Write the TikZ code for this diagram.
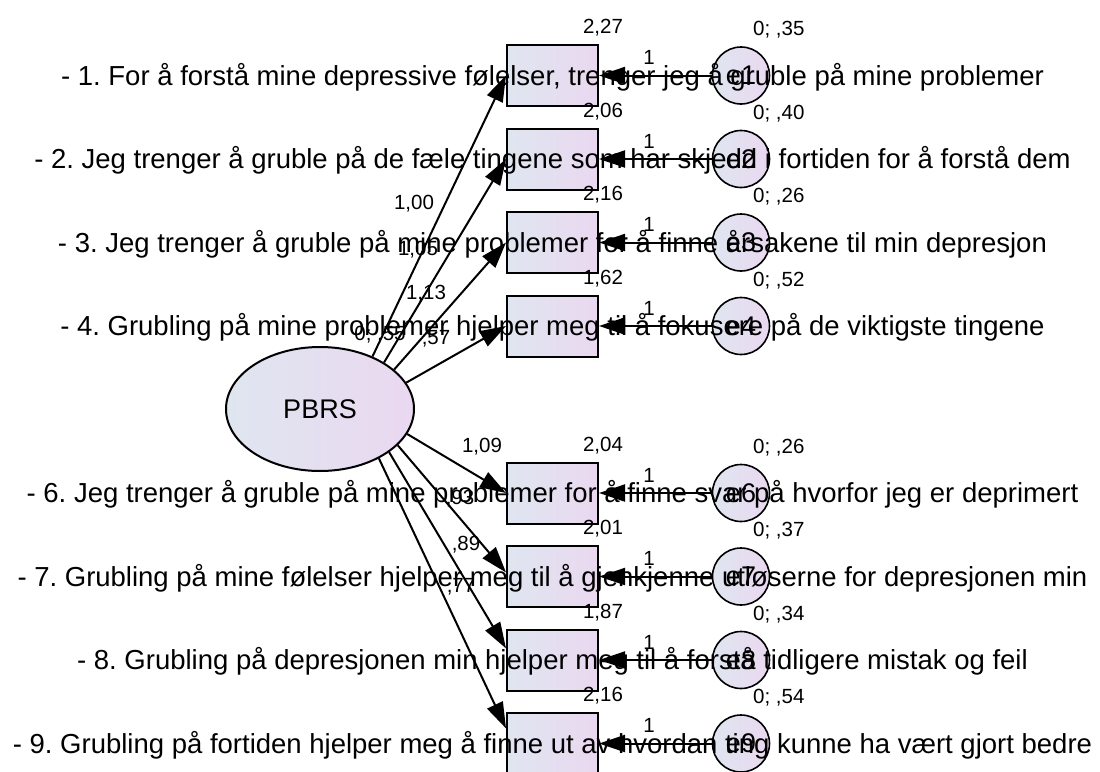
\documentclass[tikz,border=0pt]{standalone}
\usepackage{fontspec}
\setmainfont{Liberation Sans}
\usetikzlibrary{arrows.meta,shapes.geometric,calc}
\definecolor{fillA}{RGB}{223,230,240}
\definecolor{fillB}{RGB}{234,216,240}
\frenchspacing
\begin{document}
\frenchspacing
\begin{tikzpicture}[x=1pt,y=-1pt,
  obs/.style={draw,line width=2pt,rectangle,minimum width=91pt,minimum height=61pt,inner sep=0pt,left color=fillA,right color=fillB},
  err/.style={draw,line width=1.6pt,circle,minimum size=57pt,inner sep=0pt,left color=fillA,right color=fillB,font=\fontsize{27}{30}\selectfont},
  lat/.style={draw,line width=2pt,ellipse,minimum width=188pt,minimum height=124pt,inner sep=0pt,left color=fillA,right color=fillB,font=\fontsize{27}{30}\selectfont},
  reg/.style={line width=2pt,-{Triangle[length=26pt,width=17pt]}},
  item/.style={anchor=base,inner sep=0pt,font=\fontsize{27.5}{30}\selectfont},
  num/.style={anchor=base,inner sep=0pt,font=\fontsize{20.5}{24}\selectfont},
  numw/.style={anchor=base west,inner sep=0pt,font=\fontsize{20.5}{24}\selectfont}
]
\useasboundingbox (0,0) rectangle (1100,771);
\clip (0,0) rectangle (1100,771);

% latent
\node[lat] (pbrs) at (320,409) {PBRS};

% observed
\node[obs] (r1) at (552.5,75.5) {};
\node[obs] (r2) at (552.5,159) {};
\node[obs] (r3) at (552.5,242.5) {};
\node[obs] (r4) at (552.5,326) {};
\node[obs] (r6) at (552.5,493) {};
\node[obs] (r7) at (552.5,576.5) {};
\node[obs] (r8) at (552.5,660) {};
\node[obs] (r9) at (552.5,743.5) {};

% errors
\node[err] (e1) at (741,75.5) {e1};
\node[err] (e2) at (741,159) {e2};
\node[err] (e3) at (741,242.5) {e3};
\node[err] (e4) at (741,326) {e4};
\node[err] (e6) at (741,493) {e6};
\node[err] (e7) at (741,576.5) {e7};
\node[err] (e8) at (741,660) {e8};
\node[err] (e9) at (741,743.5) {e9};

% regression paths
\draw[reg] (pbrs.45) -- (r1.west);
\draw[reg] (pbrs.36) -- (r2.west);
\draw[reg] (pbrs.28) -- (r3.west);
\draw[reg] (pbrs.17) -- (r4.west);
\draw[reg] (pbrs.-16) -- (r6.west);
\draw[reg] (pbrs.-25) -- (r7.175);
\draw[reg] (pbrs.-32) -- (r8.166);
\draw[reg] (pbrs.-40) -- (r9.162);

\draw[reg] (e1.west) -- (r1.east);
\draw[reg] (e2.west) -- (r2.east);
\draw[reg] (e3.west) -- (r3.east);
\draw[reg] (e4.west) -- (r4.east);
\draw[reg] (e6.west) -- (r6.east);
\draw[reg] (e7.west) -- (r7.east);
\draw[reg] (e8.west) -- (r8.east);
\draw[reg] (e9.west) -- (r9.east);

% intercepts
\node[num] (i1) at (603,33.5) {2,27};
\node[num] (i2) at (603,117) {2,06};
\node[num] (i3) at (603,200.5) {2,16};
\node[num] (i4) at (603,284) {1,62};
\node[num] (i6) at (603,451) {2,04};
\node[num] (i7) at (603,534.5) {2,01};
\node[num] (i8) at (603,618) {1,87};
\node[num] (i9) at (603,701.5) {2,16};

% error variances
\node[numw] (v1) at (753,35.5) {0; ,35};
\node[numw] (v2) at (753,119) {0; ,40};
\node[numw] (v3) at (753,202.5) {0; ,26};
\node[numw] (v4) at (753,286) {0; ,52};
\node[numw] (v6) at (753,453) {0; ,26};
\node[numw] (v7) at (753,536.5) {0; ,37};
\node[numw] (v8) at (753,620) {0; ,34};
\node[numw] (v9) at (753,703.5) {0; ,54};

% fixed weights
\node[num] (w1) at (649,64.5) {1};
\node[num] (w2) at (649,148) {1};
\node[num] (w3) at (649,231.5) {1};
\node[num] (w4) at (649,315) {1};
\node[num] (w6) at (649,482) {1};
\node[num] (w7) at (649,565.5) {1};
\node[num] (w8) at (649,649) {1};
\node[num] (w9) at (649,732.5) {1};

% loadings
\node[num] (ld1) at (414,209.3) {1,00};
\node[num] (ld2) at (418,255) {1,05};
\node[num] (ld3) at (426,299.3) {1,13};
\node[num] (ld4) at (436,344) {,57};
\node[num] (pv) at (380,340) {0; ,55};
\node[num] (ld6) at (482,452) {1,09};
\node[num] (ld7) at (460,504) {,93};
\node[num] (ld8) at (466,550) {,89};
\node[num] (ld9) at (461,592) {,77};

% item texts
\node[item] (t1) at (552.5,85.3) {- 1. For å forstå mine depressive følelser, trenger jeg å gruble på mine problemer};
\node[item] (t2) at (552.5,168.8) {- 2. Jeg trenger å gruble på de fæle tingene som har skjedd i fortiden for å forstå dem};
\node[item] (t3) at (552.5,252.3) {- 3. Jeg trenger å gruble på mine problemer for å finne årsakene til min depresjon};
\node[item] (t4) at (552.5,335.8) {- 4. Grubling på mine problemer hjelper meg til å fokusere på de viktigste tingene};
\node[item] (t6) at (552.5,502.8) {- 6. Jeg trenger å gruble på mine problemer for å finne svar på hvorfor jeg er deprimert};
\node[item] (t7) at (552.5,586.3) {- 7. Grubling på mine følelser hjelper meg til å gjenkjenne utløserne for depresjonen min};
\node[item] (t8) at (552.5,669.8) {- 8. Grubling på depresjonen min hjelper meg til å forstå tidligere mistak og feil};
\node[item] (t9) at (552.5,753.3) {- 9. Grubling på fortiden hjelper meg å finne ut av hvordan ting kunne ha vært gjort bedre};
\end{tikzpicture}
\end{document}
